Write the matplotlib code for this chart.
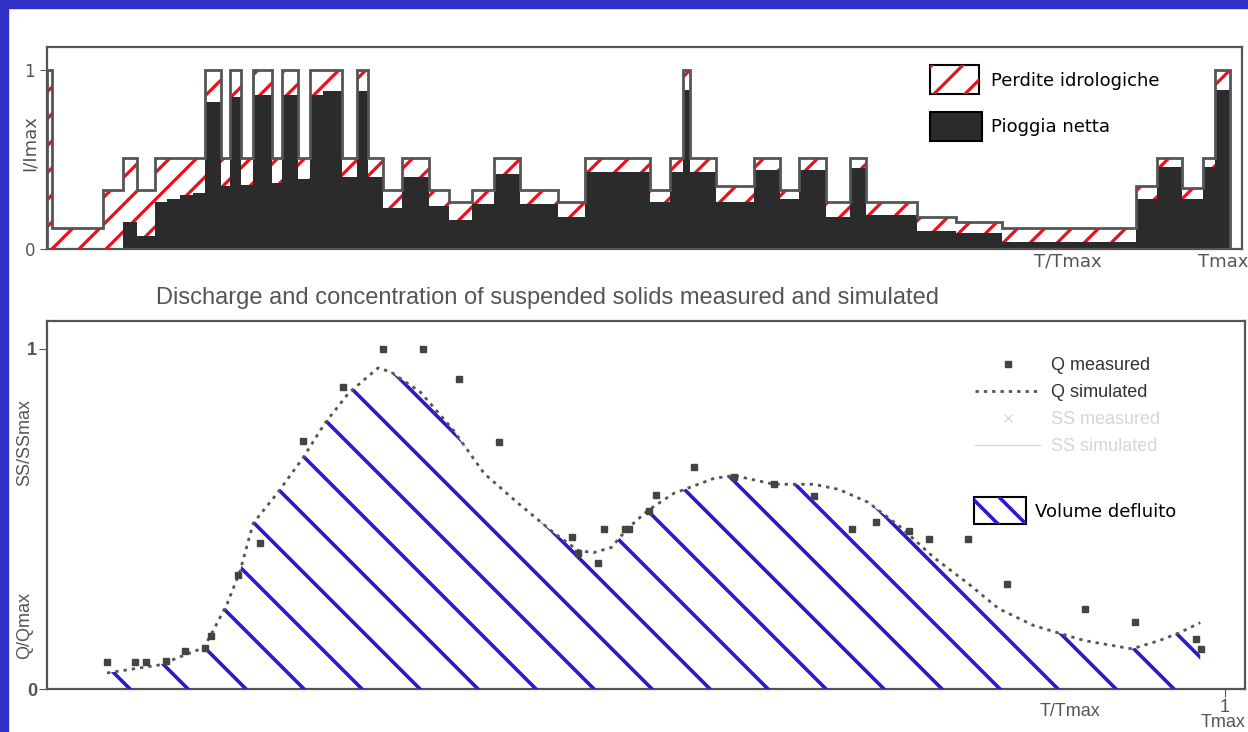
import numpy as np
import matplotlib.pyplot as plt
from matplotlib.patches import Rectangle
from matplotlib.collections import LineCollection
from matplotlib.lines import Line2D
from matplotlib.transforms import IdentityTransform

W, H = 1248, 732

# rainfall (top panel), T/Tmax bin edges, total and net intensity I/Imax
t_edges = [0.000, 0.004, 0.047, 0.064, 0.075, 0.090, 0.100, 0.111, 0.122, 0.132,
           0.146, 0.153, 0.162, 0.172, 0.188, 0.197, 0.210, 0.220, 0.231, 0.247,
           0.259, 0.269, 0.281, 0.297, 0.320, 0.336, 0.356, 0.374, 0.396, 0.428,
           0.450, 0.505, 0.521, 0.532, 0.538, 0.560, 0.592, 0.613, 0.629, 0.652,
           0.672, 0.685, 0.728, 0.761, 0.799, 0.911, 0.929, 0.950, 0.967, 0.977,
           0.990]
i_total = [1.00, 0.12, 0.33, 0.51, 0.33, 0.51, 0.51, 0.51, 0.51, 1.00,
           0.51, 1.00, 0.51, 1.00, 0.51, 1.00, 0.51, 1.00, 1.00, 0.51,
           1.00, 0.51, 0.33, 0.51, 0.33, 0.26, 0.33, 0.51, 0.33, 0.26,
           0.51, 0.33, 0.51, 1.00, 0.51, 0.35, 0.51, 0.33, 0.51, 0.26,
           0.51, 0.26, 0.18, 0.15, 0.12, 0.35, 0.51, 0.34, 0.51, 1.00]
i_net = [0.00, 0.00, 0.00, 0.15, 0.07, 0.26, 0.28, 0.30, 0.31, 0.82,
         0.35, 0.85, 0.36, 0.86, 0.37, 0.86, 0.39, 0.86, 0.88, 0.40,
         0.88, 0.40, 0.23, 0.40, 0.24, 0.16, 0.25, 0.42, 0.25, 0.18,
         0.43, 0.26, 0.43, 0.89, 0.43, 0.26, 0.44, 0.28, 0.44, 0.18,
         0.45, 0.19, 0.10, 0.09, 0.04, 0.28, 0.46, 0.28, 0.46, 0.89]

# discharge (bottom panel)
t_meas = [0.051, 0.075, 0.084, 0.101, 0.117, 0.134, 0.139, 0.162, 0.181, 0.217,
          0.251, 0.285, 0.319, 0.350, 0.384, 0.446, 0.451, 0.468, 0.473, 0.491,
          0.494, 0.511, 0.517, 0.549, 0.583, 0.617, 0.651, 0.683, 0.704, 0.732,
          0.749, 0.782, 0.815, 0.881, 0.924, 0.975, 0.980]
q_meas = [0.080, 0.080, 0.080, 0.083, 0.112, 0.121, 0.156, 0.336, 0.428, 0.729,
          0.888, 1.000, 1.000, 0.912, 0.726, 0.448, 0.401, 0.369, 0.469, 0.469,
          0.469, 0.522, 0.569, 0.652, 0.622, 0.602, 0.566, 0.469, 0.490, 0.466,
          0.442, 0.442, 0.310, 0.236, 0.198, 0.147, 0.118]
t_sim = [0.051, 0.073, 0.096, 0.119, 0.133, 0.141, 0.153, 0.164, 0.175, 0.196,
         0.217, 0.236, 0.256, 0.281, 0.292, 0.317, 0.345, 0.371, 0.400, 0.430,
         0.451, 0.464, 0.479, 0.493, 0.510, 0.532, 0.566, 0.583, 0.617, 0.651,
         0.672, 0.697, 0.725, 0.753, 0.782, 0.808, 0.838, 0.881, 0.921, 0.944,
         0.961, 0.979]
q_sim = [0.047, 0.059, 0.071, 0.103, 0.121, 0.171, 0.251, 0.348, 0.487, 0.578,
         0.678, 0.782, 0.870, 0.944, 0.932, 0.873, 0.761, 0.634, 0.546, 0.460,
         0.407, 0.401, 0.416, 0.472, 0.525, 0.575, 0.619, 0.628, 0.602, 0.602,
         0.587, 0.549, 0.475, 0.386, 0.310, 0.236, 0.186, 0.142, 0.118, 0.142,
         0.165, 0.195]

GRAY = "#555555"
RED = "#e8101c"
BLUE = "#2a1acf"


def hatch(ax, patch, step, slope, x0, y0, color, lw):
    # 45 degree lines in pixel space, clipped to the patch
    segs = []
    for k in range(-(W + H) // step - 2, (W + H) // step + 2):
        xc = x0 + k * step
        segs.append([(xc - slope * y0, 0), (xc + slope * (H - y0), H)])
    lc = LineCollection(segs, colors=color, linewidths=lw,
                        transform=IdentityTransform(), zorder=3)
    ax.add_collection(lc, autolim=False)
    lc.set_clip_path(patch)
    return lc


fig = plt.figure(figsize=(W / 100, H / 100), dpi=100, facecolor="white")
fig.add_artist(Rectangle((0, 1 - 8 / H), 1, 8 / H, transform=fig.transFigure,
                         color="#3232c8", zorder=10))
fig.add_artist(Rectangle((0, 0), 8 / W, 1, transform=fig.transFigure,
                         color="#3232c8", zorder=10))

# ---------------- top: rainfall ----------------
ax1 = fig.add_axes([47 / W, 483 / H, 1195 / W, 202 / H])
ax1.set_xlim(0, 1)
ax1.set_ylim(0, 1.128)
ax1.stairs(i_net, t_edges, baseline=0, fill=True, color="#2b2b2b", zorder=2)
loss = ax1.stairs(i_total, t_edges, baseline=i_net, fill=True,
                  facecolor="white", edgecolor="none", zorder=2)
hatch(ax1, loss, 27, 1, 52, 483, RED, 2.3)
ax1.stairs(i_total, t_edges, baseline=0, fill=False, color=GRAY, lw=2, zorder=4)

for s in ax1.spines.values():
    s.set_color(GRAY)
    s.set_linewidth(1.6)
ax1.set_xticks([])
ax1.set_yticks([0, 1])
ax1.tick_params(axis="y", length=5, color=GRAY, labelcolor=GRAY, labelsize=12)
ax1.text(0.854, -0.064, "T/Tmax", transform=ax1.transAxes, ha="center", va="center",
         fontsize=13, color=GRAY)
ax1.text(0.984, -0.064, "Tmax", transform=ax1.transAxes, ha="center", va="center",
         fontsize=13, color=GRAY)
fig.text(30 / W, 0.805, "I/Imax", rotation=90, ha="center", va="center",
         fontsize=13, color=GRAY)

# legend of top panel
r1 = Rectangle((0.739, 0.767), 0.041, 0.1436, transform=ax1.transAxes,
               facecolor="white", edgecolor="black", lw=1.5, zorder=5)
ax1.add_patch(r1)
lc = hatch(ax1, r1, 31, 1, 934, 638, RED, 2.3)
lc.set_zorder(6)
ax1.add_patch(Rectangle((0.739, 0.535), 0.0435, 0.1436, transform=ax1.transAxes,
                        facecolor="#2b2b2b", edgecolor="black", lw=1.5, zorder=5))
ax1.text(0.79, 0.834, "Perdite idrologiche", transform=ax1.transAxes,
         va="center", fontsize=13, color="black")
ax1.text(0.79, 0.606, "Pioggia netta", transform=ax1.transAxes,
         va="center", fontsize=13, color="black")

# ---------------- title ----------------
fig.text(547 / W, 0.593, "Discharge and concentration of suspended solids measured and simulated",
         ha="center", va="center", fontsize=17, family="Liberation Sans", color=GRAY)

# ---------------- bottom: discharge ----------------
ax2 = fig.add_axes([47 / W, 43 / H, 1198 / W, 368 / H])
ax2.set_xlim(0, 1.017)
ax2.set_ylim(0, 1.082)
area = ax2.fill(np.r_[t_sim[0], t_sim, t_sim[-1]], np.r_[0, q_sim, 0],
                facecolor="none", edgecolor="none")[0]
hatch(ax2, area, 58, -1, 130, 43, BLUE, 2.6)
ax2.plot(t_sim, q_sim, color=GRAY, lw=2, ls=(0, (1.2, 1.8)), zorder=4)
ax2.plot(t_meas, q_meas, ls="none", marker="s", ms=4.5, color="#444444", zorder=5)

for s in ax2.spines.values():
    s.set_color(GRAY)
    s.set_linewidth(1.6)
ax2.set_yticks([0, 1])
ax2.set_yticklabels(["0", "1"], fontweight="bold", family="Liberation Sans")
ax2.set_xticks([1])
ax2.set_xticklabels(["1"], family="Liberation Sans")
ax2.tick_params(length=6, color=GRAY, labelcolor=GRAY, labelsize=13, pad=1)
ax2.text(0.854, -0.06, "T/Tmax", transform=ax2.transAxes, ha="center", va="center",
         fontsize=13, family="Liberation Sans", color=GRAY)
ax2.text(1.0005, -0.09, "Tmax", transform=ax2.transAxes, ha="right", va="center",
         fontsize=13, family="Liberation Sans", color=GRAY)
fig.text(25 / W, 0.396, "SS/SSmax", rotation=90, ha="center", va="center",
         fontsize=13, family="Liberation Sans", color=GRAY)
fig.text(25 / W, 0.145, "Q/Qmax", rotation=90, ha="center", va="center",
         fontsize=13, family="Liberation Sans", color=GRAY)

handles = [Line2D([], [], ls="none", marker="s", ms=4.5, color="#444444"),
           Line2D([], [], color=GRAY, lw=2, ls=(0, (1.2, 1.8))),
           Line2D([], [], ls="none", marker="x", ms=6, color="#dadada"),
           Line2D([], [], color="#dadada", lw=1)]
labels = ["Q measured", "Q simulated", "SS measured", "SS simulated"]
leg = ax2.legend(handles, labels, loc="upper left", bbox_to_anchor=(0.775, 0.902),
                 frameon=False, borderpad=0, borderaxespad=0, handlelength=3.6,
                 handletextpad=0.6, labelspacing=0.55,
                 prop={"family": "Liberation Sans", "size": 13})
for txt, c in zip(leg.get_texts(), ["#333333", "#333333", "#d6d6d6", "#d6d6d6"]):
    txt.set_color(c)

r2 = Rectangle((0.774, 0.448), 0.0434, 0.0734, transform=ax2.transAxes,
               facecolor="white", edgecolor="black", lw=1.5, zorder=5)
ax2.add_patch(r2)
lc = hatch(ax2, r2, 28, -1, 998, 208, BLUE, 2.6)
lc.set_zorder(6)
ax2.text(0.825, 0.481, "Volume defluito", transform=ax2.transAxes,
         va="center", fontsize=13, color="black")

fig.savefig("out.png", dpi=100)
